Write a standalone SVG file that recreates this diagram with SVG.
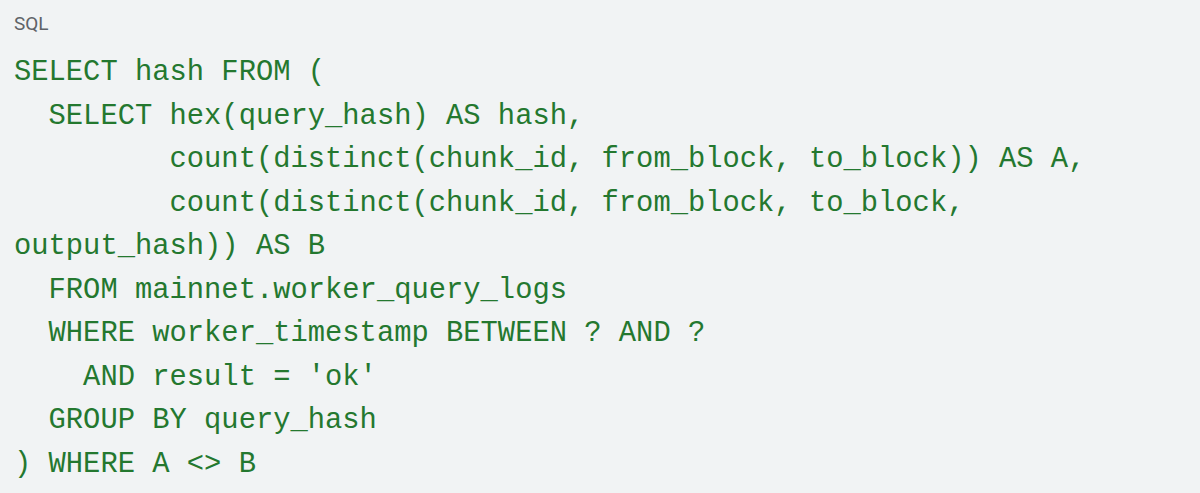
<svg xmlns="http://www.w3.org/2000/svg" width="1200" height="493" viewBox="0 0 1200 493">
<style>
.c{font-family:"Liberation Mono","DejaVu Sans Mono",monospace;font-size:28.8px;fill:#24782f;white-space:pre}
.l{font-family:Roboto,"Liberation Sans",sans-serif;font-size:19px;fill:#5f6368}
</style>
<rect width="1200" height="493" fill="#f1f3f4"/>
<text class="l" x="14" y="30">SQL</text>
<g xml:space="preserve">
<text class="c" x="14" y="80">SELECT hash FROM (</text>
<text class="c" x="14" y="123.5">  SELECT hex(query_hash) AS hash,</text>
<text class="c" x="14" y="167">         count(distinct(chunk_id, from_block, to_block)) AS A,</text>
<text class="c" x="14" y="210.5">         count(distinct(chunk_id, from_block, to_block,</text>
<text class="c" x="14" y="254">output_hash)) AS B</text>
<text class="c" x="14" y="297.5">  FROM mainnet.worker_query_logs</text>
<text class="c" x="14" y="341">  WHERE worker_timestamp BETWEEN ? AND ?</text>
<text class="c" x="14" y="384.5">    AND result = 'ok'</text>
<text class="c" x="14" y="428">  GROUP BY query_hash</text>
<text class="c" x="14" y="471.5">) WHERE A &lt;&gt; B</text>
</g>
</svg>
